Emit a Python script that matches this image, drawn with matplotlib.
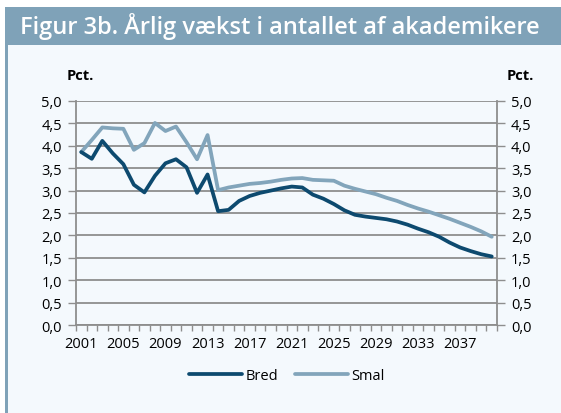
import matplotlib
matplotlib.use("Agg")
import matplotlib.pyplot as plt
from matplotlib.patches import Rectangle
from matplotlib.ticker import MultipleLocator, FixedLocator, FuncFormatter

years = list(range(2001, 2041))
bred = [3.86, 3.71, 4.11, 3.83, 3.59, 3.13, 2.96, 3.33, 3.61, 3.70, 3.52, 2.95, 3.36, 2.54,
        2.57, 2.77, 2.88, 2.95, 3.00, 3.05, 3.09, 3.07, 2.91, 2.82, 2.70, 2.56, 2.46, 2.42,
        2.39, 2.36, 2.31, 2.24, 2.15, 2.07, 1.97, 1.84, 1.73, 1.65, 1.58, 1.53]
smal = [3.86, 4.13, 4.41, 4.39, 4.38, 3.91, 4.06, 4.51, 4.33, 4.43, 4.08, 3.70, 4.24, 3.01,
        3.07, 3.11, 3.15, 3.17, 3.20, 3.24, 3.27, 3.28, 3.24, 3.23, 3.22, 3.11, 3.04, 2.98,
        2.92, 2.84, 2.77, 2.68, 2.60, 2.53, 2.45, 2.37, 2.28, 2.19, 2.09, 1.97]
title = "Figur 3b. Årlig vækst i antallet af akademikere"
series_names = ["Bred", "Smal"]
ylabel = "Pct."

W, H = 561, 414
FONT = "Open Sans"
plt.rcParams['font.family'] = [FONT, 'DejaVu Sans']

bg = "#f4f9fd"
band = "#7fa2b8"
c_bred = "#0d4a6f"
c_smal = "#82a5bb"
grid_c = "#8e8e8e"

fig = plt.figure(figsize=(W/100, H/100), dpi=100)
fig.patch.set_facecolor("white")

def fx(px): return px / W
def fy(py): return 1 - py / H

fig.patches.append(Rectangle((fx(5), 0), 1 - fx(5), fy(8), transform=fig.transFigure,
                             facecolor=bg, edgecolor="none", zorder=-3))
fig.patches.append(Rectangle((fx(5), 0), fx(3), fy(8), transform=fig.transFigure,
                             facecolor=band, edgecolor="none", zorder=-2))
fig.patches.append(Rectangle((fx(5), fy(46)), 1 - fx(5), fy(8) - fy(46), transform=fig.transFigure,
                             facecolor=band, edgecolor="none", zorder=-2))
fig.text(fx(20), fy(27), title, color="white", fontsize=17, fontweight="semibold",
         ha="left", va="center", family=[FONT, 'DejaVu Sans'])

ax = fig.add_axes([fx(76), fy(326), fx(497) - fx(76), fy(102) - fy(326)])
ax.set_facecolor(bg)
n = len(years)
x = list(range(n))
ax.plot(x, smal, color=c_smal, lw=2.7, solid_capstyle="round", zorder=3, label=series_names[1])
ax.plot(x, bred, color=c_bred, lw=2.7, solid_capstyle="round", zorder=4, label=series_names[0])

ax.set_xlim(-0.5, n - 0.5)
ax.set_ylim(0, 5)
ax.yaxis.set_major_locator(MultipleLocator(0.5))
ax.yaxis.set_major_formatter(FuncFormatter(lambda v, p: f"{v:.1f}".replace(".", ",")))
ax.grid(axis="y", color=grid_c, lw=1.3, zorder=1)
ax.set_axisbelow(True)

ax.xaxis.set_major_locator(FixedLocator([i for i in range(0, n, 4)]))
ax.set_xticklabels([str(years[i]) for i in range(0, n, 4)])
ax.xaxis.set_minor_locator(FixedLocator([i - 0.5 for i in range(n + 1)]))
ax.tick_params(axis="x", which="major", length=0, pad=8, labelsize=10.5, colors="black")
ax.tick_params(axis="x", which="minor", length=4, width=1, color=grid_c)
ax.tick_params(axis="y", length=6, width=1, color=grid_c, labelsize=10.5, pad=4,
               left=True, right=True, labelleft=True, labelright=True)
ax.spines["top"].set_visible(False)
for s in ["left", "right", "bottom"]:
    ax.spines[s].set_color(grid_c)
    ax.spines[s].set_linewidth(1.3)

fig.text(fx(80), fy(76), ylabel, fontsize=10.5, fontweight="bold", ha="center", va="center")
fig.text(fx(520), fy(76), ylabel, fontsize=10.5, fontweight="bold", ha="center", va="center")

h, l = ax.get_legend_handles_labels()
leg = fig.legend(h[::-1], l[::-1], loc="center", bbox_to_anchor=(fx(287), fy(377)), ncol=2,
                 frameon=False, fontsize=10.5, handlelength=3.6, columnspacing=1.2,
                 handletextpad=0.25)

fig.savefig("out.png", dpi=100, facecolor=fig.get_facecolor())
